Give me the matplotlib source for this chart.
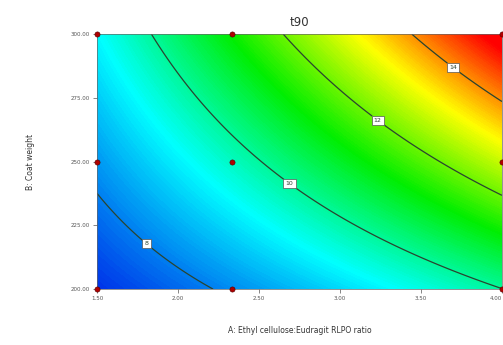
import numpy as np
import matplotlib
matplotlib.use("Agg")
import matplotlib.pyplot as plt
from matplotlib.colors import LinearSegmentedColormap

# t90 response surface (coded quadratic model): const, A, B, AB, A^2, B^2
coef = [10.42, 2.24, 1.84, 0.88, 0.06, -0.01]
a_lo, a_hi = 1.5, 4.0
b_lo, b_hi = 200.0, 300.0
levels = [8, 10, 12, 14]

# design points
design_a = [1.5, 2.33, 4.0, 1.5, 2.33, 4.0, 1.5, 2.33, 4.0]
design_b = [200, 200, 200, 250, 250, 250, 300, 300, 300]

x_ticks = [1.50, 2.00, 2.50, 3.00, 3.50, 4.00]
y_ticks = [200.0, 225.0, 250.0, 275.0, 300.0]

label_spots = [(1.82, 219), (2.69, 241.6), (3.23, 266), (3.71, 288)]

A, B = np.meshgrid(np.linspace(a_lo, a_hi, 300), np.linspace(b_lo, b_hi, 300))
aa = (A - (a_lo + a_hi) / 2) / ((a_hi - a_lo) / 2)
bb = (B - (b_lo + b_hi) / 2) / ((b_hi - b_lo) / 2)
Z = coef[0] + coef[1]*aa + coef[2]*bb + coef[3]*aa*bb + coef[4]*aa*aa + coef[5]*bb*bb

cmap = LinearSegmentedColormap.from_list(
    "dx", ["#0030e8", "#00ffff", "#00ee00", "#ffff00", "#ff0000"])

fig = plt.figure(figsize=(5.03, 3.45), dpi=100)
ax = fig.add_axes([0.193, 0.162, 0.805, 0.739])
ax.contourf(A, B, Z, 200, cmap=cmap, vmax=Z.max() - 0.3)
cs = ax.contour(A, B, Z, levels, colors="#2a4430", linewidths=0.9)
txts = ax.clabel(cs, fmt="%d", fontsize=4.5, inline=True, manual=label_spots, inline_spacing=3)
for t in txts:
    t.set_bbox(dict(boxstyle="square,pad=0.35", fc="white", ec="#555555", lw=0.5))
    t.set_rotation(0)

ax.scatter(design_a, design_b, s=14, c="#b00000", edgecolors="#500000",
           linewidths=0.4, clip_on=False, zorder=5)

ax.set_xlim(a_lo, a_hi)
ax.set_ylim(b_lo, b_hi)
ax.set_xticks(x_ticks)
ax.set_xticklabels(["%.2f" % v for v in x_ticks])
ax.set_yticks(y_ticks)
ax.set_yticklabels(["%.2f" % v for v in y_ticks])
ax.tick_params(labelsize=4, colors="#555555", length=3, width=0.5, pad=2)
ax.get_xticklabels()[-1].set_horizontalalignment("right")
for s in ax.spines.values():
    s.set_linewidth(0.5)
    s.set_color("#666666")

ax.set_title("t90", fontsize=8.5, color="#333333", pad=6)
ax.set_xlabel("A: Ethyl cellulose:Eudragit RLPO ratio", fontsize=5.5, color="#333333", labelpad=18)
ax.set_ylabel("B: Coat weight", fontsize=5.5, color="#333333", labelpad=26)

fig.savefig("out.png", dpi=100)
